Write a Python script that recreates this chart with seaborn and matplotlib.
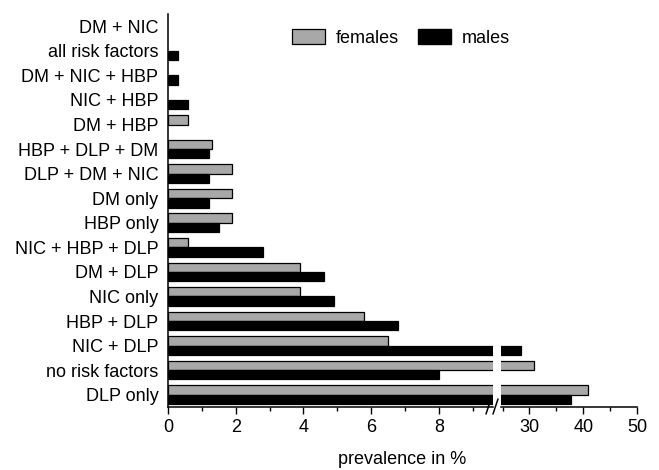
import matplotlib
matplotlib.use('Agg')
import matplotlib.pyplot as plt
import seaborn as sns
import pandas as pd
from matplotlib.patches import Patch
from matplotlib.lines import Line2D
from matplotlib.ticker import MultipleLocator, FixedLocator

categories = ['DM + NIC', 'all risk factors', 'DM + NIC + HBP', 'NIC + HBP', 'DM + HBP',
              'HBP + DLP + DM', 'DLP + DM + NIC', 'DM only', 'HBP only', 'NIC + HBP + DLP',
              'DM + DLP', 'NIC only', 'HBP + DLP', 'NIC + DLP', 'no risk factors', 'DLP only']
females = [0, 0, 0, 0, 0.6, 1.3, 1.9, 1.9, 1.9, 0.6, 3.9, 3.9, 5.8, 6.5, 30.9, 40.8]
males = [0, 0.3, 0.3, 0.6, 0, 1.2, 1.2, 1.2, 1.5, 2.8, 4.6, 4.9, 6.8, 28.5, 8.0, 37.8]

df = pd.DataFrame({'group': categories * 2,
                   'sex': ['females'] * len(categories) + ['males'] * len(categories),
                   'prev': females + males})

sns.set_style('ticks')
plt.rcParams['font.family'] = ['Liberation Sans', 'DejaVu Sans']
for k in ['text.color', 'xtick.color', 'ytick.color', 'axes.edgecolor', 'axes.labelcolor']:
    plt.rcParams[k] = 'black'
fs = 13
pal = {'females': '#a8a8a8', 'males': 'black'}

W, H = 659, 470
fig = plt.figure(figsize=(W / 100, H / 100), dpi=100)
ax1 = fig.add_axes([168 / W, 63 / H, 325 / W, 393 / H])
ax2 = fig.add_axes([501 / W, 63 / H, 136 / W, 393 / H])

for ax in (ax1, ax2):
    sns.barplot(data=df, y='group', x='prev', hue='sex', order=categories,
                hue_order=['females', 'males'], palette=pal, orient='h', width=0.76,
                edgecolor='black', linewidth=0.9, ax=ax, legend=False)
    # empty bars should not leave an edge line
    for p in ax.patches:
        if p.get_width() == 0:
            p.set_visible(False)
    ax.set_ylim(len(categories) - 0.5, -0.5)
    ax.set_xlabel('')
    ax.set_ylabel('')
    ax.spines['top'].set_visible(False)
    ax.spines['right'].set_visible(False)
    ax.tick_params(axis='x', which='major', length=5, width=1, labelsize=fs, pad=4)
    ax.tick_params(axis='x', which='minor', length=3, width=1)

ax1.set_xlim(0, 9.6)
ax1.xaxis.set_major_locator(MultipleLocator(2))
ax1.xaxis.set_minor_locator(MultipleLocator(1))
ax1.tick_params(axis='y', length=0, labelsize=fs, pad=7)

ax2.set_xlim(24.7, 50)
ax2.xaxis.set_major_locator(FixedLocator([30, 40, 50]))
ax2.xaxis.set_minor_locator(FixedLocator([25, 35, 45]))
ax2.spines['left'].set_visible(False)
ax2.tick_params(axis='y', left=False, labelleft=False)

for a in list(ax1.spines.values()) + list(ax2.spines.values()):
    a.set_linewidth(1.1)

# break marks
for x0 in (486, 493):
    fig.add_artist(Line2D([x0 / W, (x0 + 5) / W], [(H - 414) / H, (H - 399) / H],
                          color='black', lw=1.1))

handles = [Patch(facecolor=pal['females'], edgecolor='black', linewidth=0.9, label='females'),
           Patch(facecolor='black', edgecolor='black', label='males')]
fig.legend(handles=handles, loc='center', bbox_to_anchor=(401 / W, 1 - 38 / H), ncol=2,
           frameon=False, fontsize=fs, handlelength=1.8, handleheight=0.85,
           columnspacing=1.1, handletextpad=0.6)

fig.text(402 / W, (H - 460) / H, 'prevalence in %', ha='center', va='center', fontsize=fs)

fig.savefig('out.png', dpi=100)
